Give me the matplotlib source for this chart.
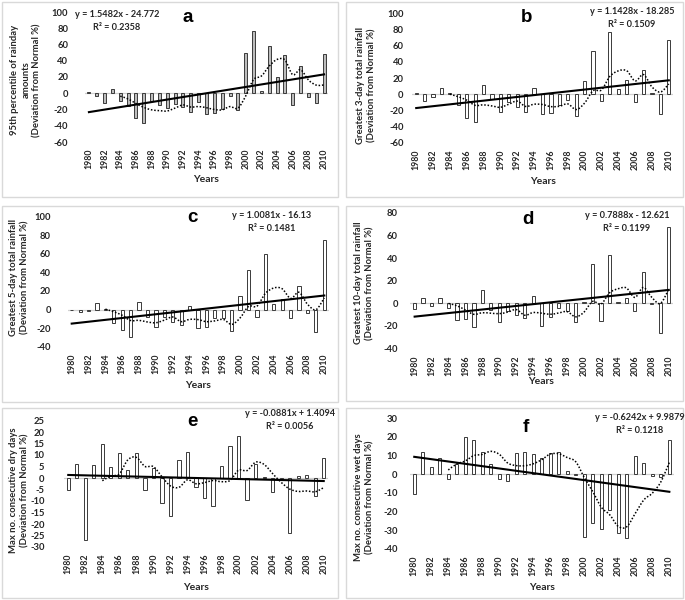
import numpy as np
import matplotlib
matplotlib.use('Agg')
import matplotlib.pyplot as plt
from matplotlib.path import Path
from matplotlib.patches import PathPatch, Rectangle

W, H = 685, 600
FONT = ['Lato', 'DejaVu Sans']
plt.rcParams['font.family'] = FONT

years = list(range(1980, 2011))
tick_years = list(range(1980, 2011, 2))

vals_a = [1, -3, -12, 5, -9, -16, -31, -36, -10, -14, -18, -13, -17, -23, -11, -25,
          -24, -19, -3, -21, 50, 77, 3, 58, 20, 47, -14, 34, -5, -12, 48]
vals_b = [2, -8, -3, 8, 1, -14, -29, -35, 11, -6, -22, -10, -16, -22, 8, -24,
          -23, -14, -7, -27, 16, 53, -9, 77, 7, 17, -10, 30, 1, -25, 67]
vals_c = [-1, -3, -2, 7, 1, -15, -22, -30, 8, -8, -19, -8, -13, -17, 4, -20,
          -19, -9, -9, -23, 15, 43, -8, 60, 6, 11, -9, 25, -4, -24, 75]
vals_d = [-5, 5, -2, 5, -4, -15, -14, -21, 12, -6, -17, -7, -10, -13, 6, -20,
          -12, -4, -7, -17, 1, 35, -16, 43, 1, 5, -7, 28, -1, -26, 68]
vals_e = [-5, 6, -27, 5.5, 14.6, 5, 11, 3.5, 10.7, -5, 4.5, -11, -16.5, 7.7, 11.3, -4,
          -8.5, -12, 5.2, 14, 18.4, -9.4, 6.2, 0.3, -6, -0.5, -24, 1, 1.3, -7.8, 8.7]
vals_f = [-10.5, 11.8, 3.9, 8.9, -2.5, 5.7, 19.8, 18.2, 12.1, 5.7, -2.3, -3.6, 11.4, 11.8, 10.9, 8.9,
          11.3, 12.1, 1.6, -0.5, -33.4, -26.3, -29.5, -19.1, -31.4, -33.9, 9.6, 6.3, -1, -1.3, 18.2]

slopes = [1.5482, 1.1428, 1.0081, 0.7888, -0.0881, -0.6242]
intercepts = [-24.772, -18.285, -16.13, -12.621, 1.4094, 9.9879]
equations = ["y = 1.5482x - 24.772\nR² = 0.2358",
             "y = 1.1428x - 18.285\nR² = 0.1509",
             "y = 1.0081x - 16.13\nR² = 0.1481",
             "y = 0.7888x - 12.621\nR² = 0.1199",
             "y = -0.0881x + 1.4094\nR² = 0.0056",
             "y = -0.6242x + 9.9879\nR² = 0.1218"]
letters = ['a', 'b', 'c', 'd', 'e', 'f']
ylabels = ["95th percentile of rainday\namounts\n(Deviation from Normal %)",
           "Greatest 3-day total rainfall\n(Deviation from Normal %)",
           "Greatest 5-day total rainfall\n(Deviation from Normal %)",
           "Greatest 10-day total rainfall\n(Deviation from Normal %)",
           "Max no. consecutive dry days\n(Deviation from Normal %)",
           "Max no. consecutive wet days\n(Deviation from Normal %)"]
yranges = [(-60, 100, 20), (-60, 100, 20), (-40, 100, 20), (-40, 80, 20), (-30, 25, 5), (-40, 30, 10)]
all_vals = [vals_a, vals_b, vals_c, vals_d, vals_e, vals_f]
bar_fill = ['#bdbdbd', 'white', 'white', 'white', 'white', 'white']

# layout (pixel coordinates): plot box left, right, top, bottom
boxes = [(85, 328, 12, 142), (412, 673, 13.3, 142.7),
         (67.5, 328.5, 216.7, 346.7), (410.4, 673, 213, 348.4),
         (64, 328, 420.5, 547), (410, 673.6, 418.3, 549)]
ypads = [12, 6, 12, 9, 14, 9]
frames = [(2, 2, 338, 197), (346, 2, 683, 197), (2, 206, 338, 402),
          (346, 206, 683, 401), (2, 408, 338, 598), (346, 408, 683, 598)]
letter_pos = [(188, 17), (527, 17), (192, 217), (528, 220), (192, 422), (526, 427)]
eq_pos = [(117, 21, 'center'), (632, 18, 'center'), (272, 222, 'center'),
          (627, 222, 'center'), (290, 420, 'center'), (640, 424, 'center')]
ylab_pos = [(26, 80), (366, 85), (19, 277), (364, 283), (19, 490), (364, 497)]
years_pos = [(206, 180), (543, 182), (198, 385), (541, 382), (196, 587), (542, 587)]


def fx(x):
    return x / W


def fy(y):
    return 1 - y / H


fig = plt.figure(figsize=(W / 100, H / 100), dpi=100)

for (x0, y0, x1, y1) in frames:
    fig.patches.append(Rectangle((fx(x0), fy(y1)), fx(x1) - fx(x0), fy(y0) - fy(y1),
                                 transform=fig.transFigure, fill=False,
                                 edgecolor='#d9d9d9', linewidth=1.0))


def smooth_path(xs, ys):
    pts = np.column_stack([xs, ys])
    ext = np.vstack([pts[0], pts, pts[-1]])
    verts = [pts[0]]
    codes = [Path.MOVETO]
    for i in range(1, len(ext) - 2):
        p0, p1, p2, p3 = ext[i - 1], ext[i], ext[i + 1], ext[i + 2]
        c1 = p1 + (p2 - p0) / 6.0
        c2 = p2 - (p3 - p1) / 6.0
        verts += [c1, c2, p2]
        codes += [Path.CURVE4] * 3
    return Path(verts, codes)


for i in range(6):
    l, r, t, b = boxes[i]
    ax = fig.add_axes([fx(l), fy(b), fx(r) - fx(l), fy(t) - fy(b)])
    ax.set_facecolor('none')
    vals = np.array(all_vals[i], dtype=float)
    yr = np.array(years)
    ax.bar(yr, vals, width=0.38, color=bar_fill[i], edgecolor='#3a3a3a', linewidth=0.7, zorder=2)
    ax.axhline(0, color='#d0d0d0', linewidth=0.9, zorder=1)
    # linear trend (x = 1..31)
    xi = np.arange(1, len(yr) + 1)
    ax.plot(yr, slopes[i] * xi + intercepts[i], color='black', linewidth=1.5, zorder=4)
    # 5-year moving average, smoothed
    ma = np.convolve(vals, np.ones(5) / 5, mode='valid')
    path = smooth_path(yr[4:].astype(float), ma)
    ax.add_patch(PathPatch(path, facecolor='none', edgecolor='black', linewidth=1.1,
                           linestyle=(0, (1, 1.2)), zorder=3))
    lo, hi, st = yranges[i]
    ax.set_ylim(lo, hi)
    ax.set_xlim(1979.5, 2010.5)
    ax.set_yticks(np.arange(lo, hi + 0.1, st))
    ax.set_xticks(tick_years)
    ax.set_xticklabels([str(y) for y in tick_years], rotation=90, fontsize=6.3,
                       fontweight='bold', color='#262626')
    ax.set_yticklabels([str(int(v)) for v in np.arange(lo, hi + 0.1, st)], fontsize=6.8,
                       fontweight='bold', color='#262626')
    ax.tick_params(axis='both', length=0)
    ax.tick_params(axis='y', pad=ypads[i])
    ax.tick_params(axis='x', pad=5)
    for s in ax.spines.values():
        s.set_visible(False)

    lx, ly = letter_pos[i]
    fig.text(fx(lx), fy(ly), letters[i], fontsize=13.5, fontweight='bold',
             family=['Liberation Sans', 'DejaVu Sans'], ha='center', va='center')
    ex, ey, eha = eq_pos[i]
    fig.text(fx(ex), fy(ey), equations[i], fontsize=6.6, fontweight='bold', ha=eha,
             va='center', multialignment='center', linespacing=1.45, color='#262626')
    yx, yy = ylab_pos[i]
    fig.text(fx(yx), fy(yy), ylabels[i], fontsize=6.8, fontweight='bold', rotation=90,
             ha='center', va='center', multialignment='center', linespacing=1.3,
             color='#262626')
    px, py = years_pos[i]
    fig.text(fx(px), fy(py), 'Years', fontsize=7.5, fontweight='bold', ha='center',
             va='center', color='#262626')

fig.savefig('out.png', dpi=100)
